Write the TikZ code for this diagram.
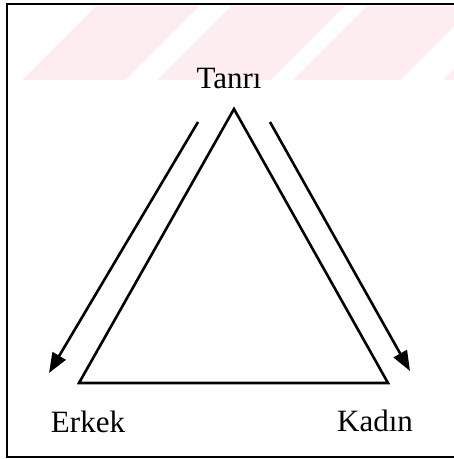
\documentclass[tikz,border=0pt]{standalone}
\usepackage{fontspec}
\setmainfont{Liberation Serif}
\usetikzlibrary{arrows.meta}
\definecolor{wmpink}{RGB}{253,236,240}
\begin{document}
\begin{tikzpicture}[x=1pt,y=-1pt,
  lbl/.style={font=\fontsize{31}{36}\selectfont, anchor=base, inner sep=0pt},
  edge/.style={line width=2.6pt, line join=miter},
  arr/.style={line width=2.6pt, -{Triangle[length=20pt,width=15pt]}},
  stripe/.style={fill=wmpink, draw=none}]
\useasboundingbox (0,0) rectangle (454,459);
% watermark stripes
\begin{scope}
\clip (8,6) rectangle (454,456);
\fill[stripe] (22,80) -- (125,80) -- (200,5) -- (97,5) -- cycle;
\fill[stripe] (157,80) -- (270,80) -- (345,5) -- (232,5) -- cycle;
\fill[stripe] (293,80) -- (400,80) -- (475,5) -- (368,5) -- cycle;
\fill[stripe] (443,80) -- (560,80) -- (635,5) -- (518,5) -- cycle;
\end{scope}
% frame
\draw[line width=2.2pt] (470,4) -- (7,4) -- (7,457) -- (470,457);
% labels
\node[lbl] (tanri) at (229,88) {Tanrı};
\node[lbl] (erkek) at (88,432) {Erkek};
\node[lbl] (kadin) at (375,431) {Kadın};
% triangle
\coordinate (apex) at (234,109);
\coordinate (bl) at (79,383);
\coordinate (br) at (388,383);
\draw[edge] (bl) -- (apex) -- (br) -- cycle;
% arrows
\coordinate (la) at (198,122);
\coordinate (lt) at (49,373);
\coordinate (ra) at (270,122);
\coordinate (rt) at (410,371);
\draw[arr] (la) -- (lt);
\draw[arr] (ra) -- (rt);
\end{tikzpicture}
\end{document}
